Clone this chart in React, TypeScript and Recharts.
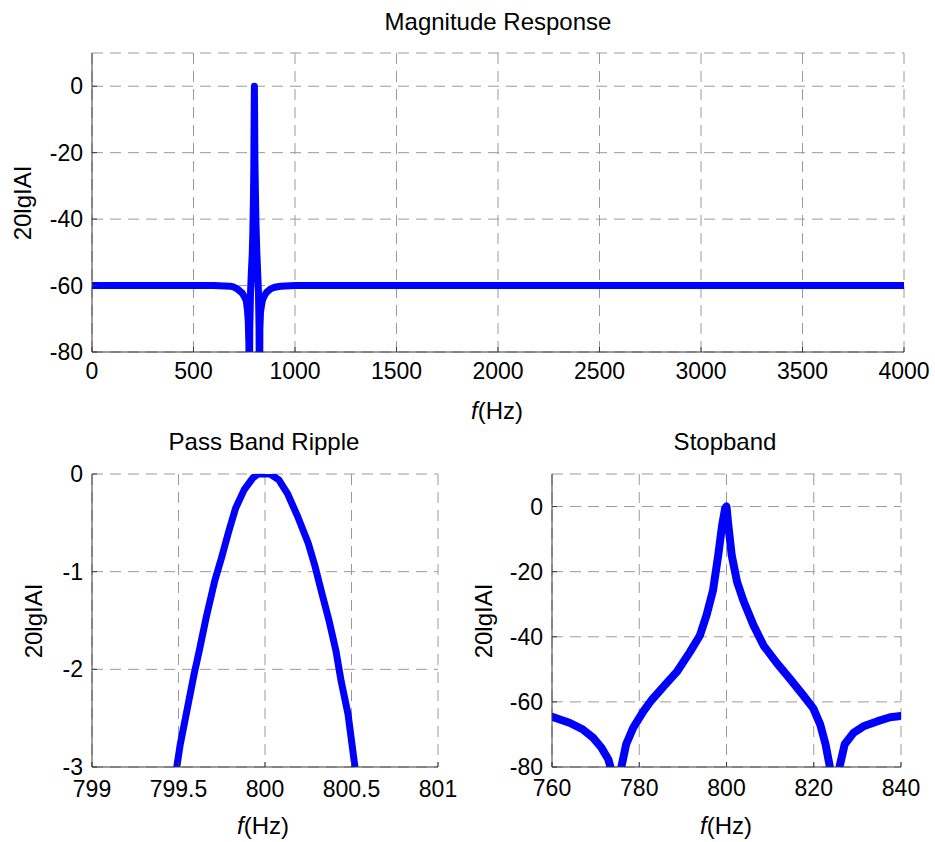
import React from 'react';
import { LineChart, Line, XAxis, YAxis, CartesianGrid } from 'recharts';

const FONT = '"Liberation Sans", Arial, Helvetica, sans-serif';

// Magnitude response (full band)
const magFreq = [0, 600, 680, 700, 720, 740, 750, 760, 766, 770, 773, 775, 777, 781, 785, 789, 792, 795, 797, 799, 800, 801, 802.5, 805, 808, 812, 816, 820, 823, 825, 827, 830, 835, 840, 850, 860, 880, 900, 930, 1000, 2000, 3000, 4000];
const magDb = [-60, -60, -60.2, -60.5, -61.2, -62.3, -63.3, -64.6, -67.5, -71, -78, -110, -73, -62, -56, -51, -45, -35, -25, -6, 0, -8, -22, -32, -42, -50, -56, -62, -73, -110, -73, -68, -66, -64.3, -63, -62, -61, -60.5, -60.2, -60, -60, -60, -60];
const magTicksX = [0, 500, 1000, 1500, 2000, 2500, 3000, 3500, 4000];
const magTicksY = [-80, -60, -40, -20, 0];

// Pass band ripple
const passFreq = [799.49, 799.51, 799.55, 799.59, 799.62, 799.66, 799.71, 799.75, 799.79, 799.83, 799.88, 799.93, 799.96, 800.03, 800.08, 800.13, 800.19, 800.25, 800.29, 800.33, 800.37, 800.41, 800.44, 800.48, 800.52];
const passDb = [-3, -2.77, -2.41, -2.05, -1.81, -1.47, -1.09, -0.85, -0.59, -0.35, -0.16, -0.04, 0, 0, -0.06, -0.2, -0.44, -0.71, -0.95, -1.23, -1.5, -1.81, -2.12, -2.46, -3];
const passTicksX = [799, 799.5, 800, 800.5, 801];
const passTicksY = [-3, -2, -1, 0];

// Stopband
const stopFreq = [760, 764, 767, 769.4, 771.3, 772.9, 773.4, 774.6, 775.9, 777, 778.6, 780.9, 782.8, 785.5, 788.6, 791.6, 793.9, 795.4, 796.9, 798.1, 799, 799.7, 800, 800.4, 801.2, 802.4, 803.9, 806.2, 808.5, 811.5, 814.6, 817.6, 819.9, 821.5, 822.7, 823.7, 824.8, 825.9, 827.1, 829.1, 831.4, 834.5, 837.5, 840];
const stopDb = [-64.6, -66.4, -68.4, -71, -74, -77.6, -80, -110, -80, -73, -68, -63, -59.5, -55.4, -50.8, -44.7, -39.6, -33.5, -25.8, -15, -5.7, -0.5, 0, -5.5, -15, -23, -29, -36.5, -42.7, -48, -53, -58, -62, -67, -73, -80, -110, -80, -73, -69.5, -67.5, -66, -64.7, -64.3];
const stopTicksX = [760, 780, 800, 820, 840];
const stopTicksY = [-80, -60, -40, -20, 0];

const toRows = (xs: number[], ys: number[]) => xs.map((f, i) => ({ f, v: ys[i] }));
const magData = toRows(magFreq, magDb);
const passData = toRows(passFreq, passDb);
const stopData = toRows(stopFreq, stopDb);

const BOX = '#3a3a3a';
const GRID = '#9a9a9a';
const tickStyle = { fill: '#000', fontSize: 23, fontFamily: FONT };

type PanelProps = {
  data: { f: number; v: number }[];
  width: number;
  height: number;
  margin: { top: number; right: number; bottom: number; left: number };
  xDomain: [number, number];
  yDomain: [number, number];
  xTicks: number[];
  yTicks: number[];
  strokeWidth: number;
  xTickMargin: number;
};

function Panel(p: PanelProps) {
  return (
    <LineChart width={p.width} height={p.height} data={p.data} margin={p.margin}>
      <CartesianGrid stroke={GRID} strokeDasharray="11 7" strokeWidth={1} />
      <XAxis
        dataKey="f"
        type="number"
        domain={p.xDomain}
        ticks={p.xTicks}
        interval={0}
        allowDataOverflow
        height={40}
        tickSize={-5}
        tickMargin={p.xTickMargin}
        axisLine={{ stroke: BOX }}
        tickLine={{ stroke: BOX }}
        tick={tickStyle}
      />
      <XAxis
        xAxisId="top"
        orientation="top"
        dataKey="f"
        type="number"
        domain={p.xDomain}
        ticks={p.xTicks}
        interval={0}
        allowDataOverflow
        height={0}
        tickSize={-5}
        axisLine={{ stroke: BOX }}
        tickLine={{ stroke: BOX }}
        tick={false}
      />
      <YAxis
        type="number"
        domain={p.yDomain}
        ticks={p.yTicks}
        interval={0}
        allowDataOverflow
        width={70}
        tickSize={-5}
        tickMargin={14}
        axisLine={{ stroke: BOX }}
        tickLine={{ stroke: BOX }}
        tick={tickStyle}
      />
      <YAxis
        yAxisId="right"
        orientation="right"
        type="number"
        domain={p.yDomain}
        ticks={p.yTicks}
        interval={0}
        allowDataOverflow
        width={0}
        tickSize={-5}
        axisLine={{ stroke: BOX }}
        tickLine={{ stroke: BOX }}
        tick={false}
      />
      <Line
        type="linear"
        dataKey="v"
        stroke="#0000ff"
        strokeWidth={p.strokeWidth}
        strokeLinejoin="round"
        strokeLinecap="round"
        dot={false}
        isAnimationActive={false}
      />
    </LineChart>
  );
}

const textStyle: React.CSSProperties = {
  position: 'absolute',
  fontFamily: FONT,
  fontSize: 24,
  color: '#000',
  whiteSpace: 'nowrap',
  lineHeight: 1,
};

function Label({ x, y, children, rotate }: { x: number; y: number; children: React.ReactNode; rotate?: boolean }) {
  return (
    <div
      style={{
        ...textStyle,
        left: x,
        top: y,
        transform: rotate ? 'translate(-50%, -50%) rotate(-90deg)' : 'translate(-50%, -50%)',
      }}
    >
      {children}
    </div>
  );
}

const FLabel = () => (
  <span>
    <i>f</i>(Hz)
  </span>
);

export default function App() {
  return (
    <div style={{ position: 'absolute', left: 0, top: 0, width: 935, height: 842, background: '#fff', overflow: 'hidden' }}>
      <div style={{ position: 'absolute', left: 0, top: 0 }}>
        <Panel
          data={magData}
          width={935}
          height={400}
          margin={{ top: 53, right: 31, bottom: 8, left: 22 }}
          xDomain={[0, 4000]}
          yDomain={[-80, 10]}
          xTicks={magTicksX}
          yTicks={magTicksY}
          strokeWidth={7}
          xTickMargin={16}
        />
      </div>
      <div style={{ position: 'absolute', left: 0, top: 430 }}>
        <Panel
          data={passData}
          width={470}
          height={412}
          margin={{ top: 44, right: 32, bottom: 35, left: 22 }}
          xDomain={[799, 801]}
          yDomain={[-3, 0]}
          xTicks={passTicksX}
          yTicks={passTicksY}
          strokeWidth={7}
          xTickMargin={19}
        />
      </div>
      <div style={{ position: 'absolute', left: 470, top: 430 }}>
        <Panel
          data={stopData}
          width={465}
          height={412}
          margin={{ top: 44, right: 34, bottom: 35, left: 12 }}
          xDomain={[760, 840]}
          yDomain={[-80, 10]}
          xTicks={stopTicksX}
          yTicks={stopTicksY}
          strokeWidth={8}
          xTickMargin={18}
        />
      </div>

      <Label x={498} y={22}>Magnitude Response</Label>
      <Label x={264} y={442}>Pass Band Ripple</Label>
      <Label x={725} y={442}>Stopband</Label>

      <Label x={497} y={411}><FLabel /></Label>
      <Label x={263} y={826}><FLabel /></Label>
      <Label x={726} y={826}><FLabel /></Label>

      <Label x={23} y={203} rotate>20lgIAI</Label>
      <Label x={34} y={621} rotate>20lgIAI</Label>
      <Label x={484} y={621} rotate>20lgIAI</Label>
    </div>
  );
}
